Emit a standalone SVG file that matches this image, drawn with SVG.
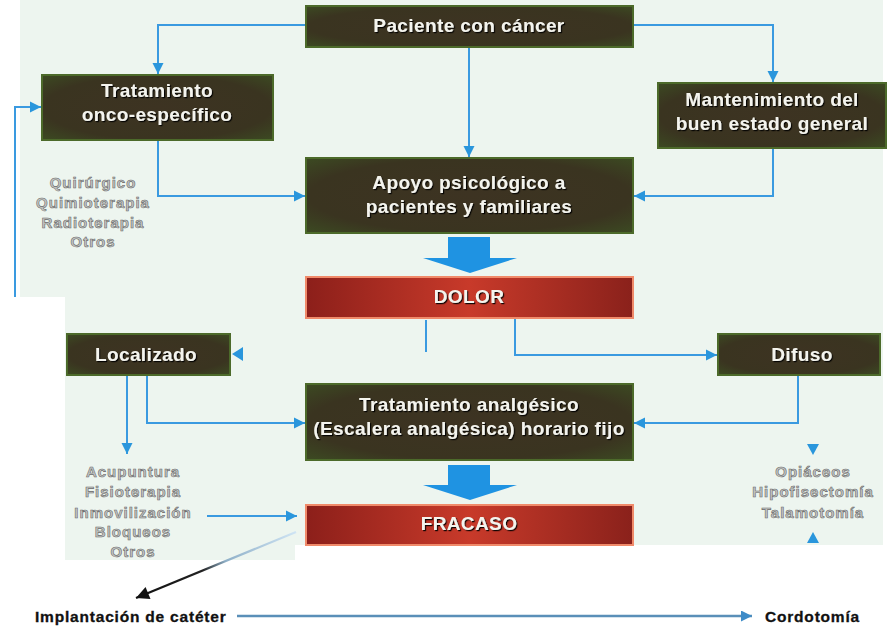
<svg xmlns="http://www.w3.org/2000/svg" width="887" height="629" viewBox="0 0 887 629">
<defs>
<radialGradient id="gBox" cx="50%" cy="50%" r="70%">
<stop offset="0" stop-color="#3d3322"/>
<stop offset="0.7" stop-color="#3a3420"/>
<stop offset="1" stop-color="#3c4a22"/>
</radialGradient>
<linearGradient id="gRed" x1="0" y1="0" x2="1" y2="0">
<stop offset="0" stop-color="#8c1f1a"/>
<stop offset="0.5" stop-color="#c83a2a"/>
<stop offset="1" stop-color="#8a211b"/>
</linearGradient>
<linearGradient id="gFade" gradientUnits="userSpaceOnUse" x1="296" y1="532" x2="140" y2="596">
<stop offset="0" stop-color="#cfe4f4"/>
<stop offset="0.45" stop-color="#8fb0c8"/>
<stop offset="0.6" stop-color="#222"/>
<stop offset="1" stop-color="#111"/>
</linearGradient>
<filter id="sh" x="-10%" y="-30%" width="120%" height="160%">
<feDropShadow dx="1.2" dy="1.2" stdDeviation="0.6" flood-color="#000" flood-opacity="0.9"/>
</filter>
<marker id="ah" viewBox="0 0 10 10" markerWidth="11" markerHeight="12" refX="10" refY="5" orient="auto" markerUnits="userSpaceOnUse">
<path d="M0,0 L10,5 L0,10 z" fill="#2a96dc"/>
</marker>
<marker id="ahk" viewBox="0 0 10 10" markerWidth="14" markerHeight="13" refX="10" refY="5" orient="auto" markerUnits="userSpaceOnUse">
<path d="M0,0 L10,5 L0,10 z" fill="#111"/>
</marker>
<marker id="ahb" viewBox="0 0 10 10" markerWidth="12" markerHeight="11" refX="10" refY="5" orient="auto" markerUnits="userSpaceOnUse">
<path d="M0,0 L10,5 L0,10 z" fill="#3e8cc8"/>
</marker>
</defs>
<style>
.box{fill:url(#gBox);stroke:#4c6a2a;stroke-width:2}
.red{fill:url(#gRed);stroke:#f08a6a;stroke-width:2}
.t{font-family:"Liberation Sans",Arial,sans-serif;font-weight:bold;font-size:19px;fill:#f4f4ee;text-anchor:middle;letter-spacing:0.4px;filter:url(#sh)}
.g{font-family:"Liberation Sans",Arial,sans-serif;font-weight:bold;font-size:15px;fill:#c4c6c4;stroke:#6a6a6a;stroke-width:0.6;text-anchor:middle;letter-spacing:1px}
.k{font-family:"Liberation Sans",Arial,sans-serif;font-weight:bold;font-size:15.5px;fill:#111;stroke:#111;stroke-width:0.3;letter-spacing:0.8px}
.ln{fill:none;stroke:#3a9ae0;stroke-width:2}
.big{fill:#1f93e2}
</style>
<rect width="887" height="629" fill="#ffffff"/>
<path d="M20,0 H883 V545 H295 V560 H65 V297 H20 Z" fill="#edf5ef"/>

<g id="connectors">
<path class="ln" d="M306,25 H158 V74" marker-end="url(#ah)"/>
<path class="ln" d="M633,25 H773 V82" marker-end="url(#ah)"/>
<path class="ln" d="M469,47 V157" marker-end="url(#ah)"/>
<path class="ln" d="M158,140 V196 H305" marker-end="url(#ah)"/>
<path class="ln" d="M773,148 V196 H634" marker-end="url(#ah)"/>
<path class="ln" d="M15,297 V107 H41" marker-end="url(#ah)"/>
<path class="ln" d="M426,320 V352"/>
<path d="M232,354 L243,347 L243,361 Z" fill="#2a96dc"/>
<path class="ln" d="M515,318 V355 H717" marker-end="url(#ah)"/>
<path class="ln" d="M127,375 V454" marker-end="url(#ah)"/>
<path class="ln" d="M147,375 V423 H305" marker-end="url(#ah)"/>
<path class="ln" d="M798,375 V423 H634" marker-end="url(#ah)"/>
<path class="ln" d="M207,516 H297" marker-end="url(#ah)"/>
<path d="M807,444 L819,444 L813,455 Z" fill="#2a96dc"/>
<path d="M807,543 L819,543 L813,532 Z" fill="#2a96dc"/>
<path d="M448,237 H490 V258 H517 L470,273 L423,258 H448 Z" class="big"/>
<path d="M448,465 H490 V485 H517 L470,500 L423,485 H448 Z" class="big"/>
<path d="M296,532 L136,598" fill="none" stroke="url(#gFade)" stroke-width="2.2" marker-end="url(#ahk)"/>
<path d="M237,616 H752" fill="none" stroke="#5a8fb8" stroke-width="2.4" marker-end="url(#ahb)"/>
</g>

<g id="n-paciente"><rect class="box" x="306" y="6" width="327" height="41"/><text class="t" x="469" y="32">Paciente con cáncer</text></g>
<g id="n-onco"><rect class="box" x="42" y="75" width="231" height="65"/><text class="t" x="157" y="97">Tratamiento</text><text class="t" x="157" y="121">onco-específico</text></g>
<g id="n-mant"><rect class="box" x="658" y="83" width="228" height="65"/><text class="t" x="772" y="106">Mantenimiento del</text><text class="t" x="772" y="130">buen estado general</text></g>
<g id="n-apoyo"><rect class="box" x="306" y="158" width="327" height="75"/><text class="t" x="469" y="189">Apoyo psicológico a</text><text class="t" x="469" y="213">pacientes y familiares</text></g>
<g id="n-dolor"><rect class="red" x="306" y="277" width="327" height="41"/><text class="t" x="469" y="303">DOLOR</text></g>
<g id="n-local"><rect class="box" x="67" y="334" width="163" height="41"/><text class="t" x="146" y="361">Localizado</text></g>
<g id="n-difuso"><rect class="box" x="718" y="334" width="162" height="41"/><text class="t" x="802" y="361">Difuso</text></g>
<g id="n-analg"><rect class="box" x="306" y="384" width="327" height="76"/><text class="t" x="469" y="411">Tratamiento analgésico</text><text class="t" x="469" y="435">(Escalera analgésica) horario fijo</text></g>
<g id="n-fracaso"><rect class="red" x="306" y="505" width="327" height="40"/><text class="t" x="469" y="530">FRACASO</text></g>

<g id="l-onco">
<text class="g" x="93" y="188">Quirúrgico</text>
<text class="g" x="93" y="208">Quimioterapia</text>
<text class="g" x="93" y="228">Radioterapia</text>
<text class="g" x="93" y="247">Otros</text>
</g>
<g id="l-local">
<text class="g" x="133" y="477">Acupuntura</text>
<text class="g" x="133" y="497">Fisioterapia</text>
<text class="g" x="133" y="518">Inmovilización</text>
<text class="g" x="133" y="537">Bloqueos</text>
<text class="g" x="133" y="557">Otros</text>
</g>
<g id="l-difuso">
<text class="g" x="813" y="477">Opiáceos</text>
<text class="g" x="813" y="497">Hipofisectomía</text>
<text class="g" x="813" y="518">Talamotomía</text>
</g>
<g id="n-cateter"><text class="k" x="35" y="622">Implantación de catéter</text></g>
<g id="n-cordotomia"><text class="k" x="765" y="622">Cordotomía</text></g>
</svg>
